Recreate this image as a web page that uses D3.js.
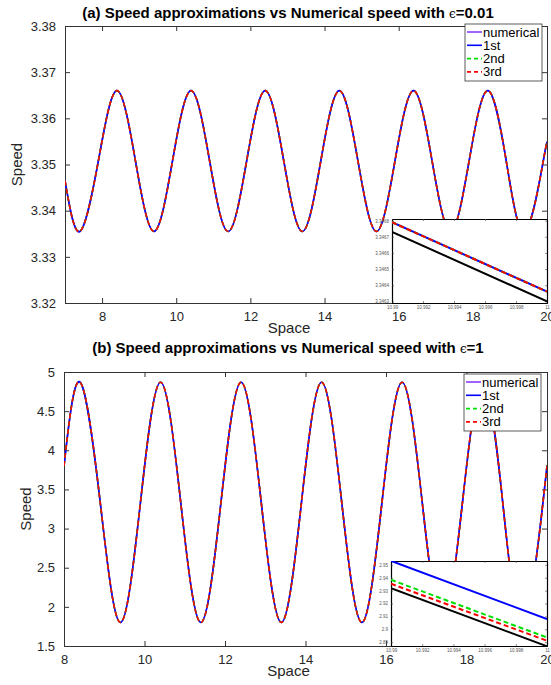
<!DOCTYPE html>
<html>
<head>
<meta charset="utf-8">
<script src="https://cdn.jsdelivr.net/npm/d3@7"></script>
<style>
  body { margin: 0; background: #fff; }
  svg { display: block; font-family: "Liberation Sans", Arial, sans-serif; }
</style>
</head>
<body>
<div id="chart"></div>
<script>
// panel (a), eps = 0.01 : all four series overlap at this scale
const spaceA = [7, 7.4, 7.9, 8.4, 8.9, 9.4, 9.9, 10.4, 10.9, 11.4, 11.9, 12.4, 12.9, 13.4,
    13.9, 14.4, 14.9, 15.4, 15.9, 16.4, 16.9, 17.4, 17.9, 18.4, 18.9, 19.4, 19.9, 20]
const speedA = [3.3465, 3.3355, 3.3508, 3.366, 3.3508, 3.3355, 3.3508, 3.366, 3.3508, 3.3355,
    3.3508, 3.366, 3.3508, 3.3355, 3.3508, 3.366, 3.3508, 3.3355, 3.3508, 3.366, 3.3508,
    3.3355, 3.3508, 3.366, 3.3508, 3.3355, 3.3508, 3.3545]

// panel (b), eps = 1
const spaceB = [8, 8.4, 8.9, 9.4, 9.9, 10.4, 10.9, 11.4, 11.9, 12.4, 12.9, 13.4, 13.9, 14.4,
    14.9, 15.4, 15.9, 16.4, 16.9, 17.4, 17.9, 18.4, 18.9, 19.4, 19.9, 20]
const speedB = [3.8, 4.87, 3.335, 1.8, 3.335, 4.87, 3.335, 1.8, 3.335, 4.87, 3.335, 1.8, 3.335,
    4.87, 3.335, 1.8, 3.335, 4.87, 3.335, 1.8, 3.335, 4.87, 3.335, 1.8, 3.335, 3.8]

// zoomed insets (space 10.99 .. 11)
const insetSpace = [10.99, 11]
const insetNumA = [3.34673, 3.3463]
const insetFirstA = [3.34679, 3.34636]
const insetSecondA = [3.34679, 3.34636]
const insetThirdA = [3.34679, 3.34636]
const insetNumB = [2.9319, 2.8868]
const insetFirstB = [2.9531, 2.9079]
const insetSecondB = [2.9384, 2.8936]
const insetThirdB = [2.9353, 2.8911]

const xTicksA = [8, 10, 12, 14, 16, 18, 20]
const yTicksA = [3.32, 3.33, 3.34, 3.35, 3.36, 3.37, 3.38]
const xTicksB = [8, 10, 12, 14, 16, 18, 20]
const yTicksB = [1.5, 2, 2.5, 3, 3.5, 4, 4.5, 5]
const insetXTicks = [10.99, 10.992, 10.994, 10.996, 10.998, 11]
const insetYTicksA = [3.3463, 3.3464, 3.3465, 3.3466, 3.3467, 3.3468]
const insetYTicksB = [2.89, 2.9, 2.91, 2.92, 2.93, 2.94, 2.95]

const legendNames = ["numerical", "1st", "2nd", "3rd"]
const colors = ["#8a3cff", "#0000ff", "#00e000", "#ff0000"]
const dashes = [null, null, "5,3", "5,3"]

const axisColor = "#333"

const svg = d3.select("#chart").append("svg")
    .attr("width", 551)
    .attr("height", 685)

svg.append("rect").attr("width", 551).attr("height", 685).attr("fill", "#fff")

function drawPanel(p) {
    const x = d3.scaleLinear().domain(p.xDomain).range([p.left, p.right])
    const y = d3.scaleLinear().domain(p.yDomain).range([p.bottom, p.top])
    const g = svg.append("g")

    g.append("clipPath").attr("id", "clip" + p.id)
        .append("rect")
        .attr("x", p.left).attr("y", p.top)
        .attr("width", p.right - p.left).attr("height", p.bottom - p.top)

    // ticks pointing inwards on all four sides, matlab style
    g.append("g").attr("transform", "translate(0," + p.bottom + ")")
        .call(d3.axisBottom(x).tickValues(p.xTicks).tickSizeInner(-5).tickSizeOuter(0).tickPadding(9))
    g.append("g").attr("transform", "translate(0," + p.top + ")")
        .call(d3.axisTop(x).tickValues(p.xTicks).tickSizeInner(-5).tickSizeOuter(0).tickFormat(""))
    g.append("g").attr("transform", "translate(" + p.left + ",0)")
        .call(d3.axisLeft(y).tickValues(p.yTicks).tickSizeInner(-5).tickSizeOuter(0).tickPadding(9).tickFormat(p.yFormat))
    g.append("g").attr("transform", "translate(" + p.right + ",0)")
        .call(d3.axisRight(y).tickValues(p.yTicks).tickSizeInner(-5).tickSizeOuter(0).tickFormat(""))

    g.selectAll(".domain").attr("stroke", axisColor).attr("stroke-width", 1)
    g.selectAll(".tick line").attr("stroke", axisColor)
    g.selectAll(".tick text").attr("fill", "#262626").style("font-size", "13px")

    const line = d3.line()
        .x((d, i) => x(p.space[i]))
        .y(d => y(d))
        .curve(d3.curveNatural)

    const lines = g.append("g").attr("clip-path", "url(#clip" + p.id + ")")
    colors.forEach((c, k) => {
        lines.append("path")
            .datum(p.speed)
            .attr("fill", "none")
            .attr("stroke", c)
            .attr("stroke-width", 1.6)
            .attr("stroke-dasharray", dashes[k])
            .attr("d", line)
    })

    // title
    const t = g.append("text")
        .attr("x", p.titleX).attr("y", p.titleY)
        .attr("text-anchor", "middle")
        .style("font-size", "15px").style("font-weight", "bold")
        .attr("fill", "#000")
    t.append("tspan").text(p.title)
    t.append("tspan").style("font-weight", "normal").style("font-family", "DejaVu Serif")
        .style("font-size", "12px").text("ϵ")
    t.append("tspan").text("=" + p.eps)

    g.append("text")
        .attr("x", (p.left + p.right) / 2 - 17).attr("y", p.bottom + 30)
        .attr("text-anchor", "middle")
        .style("font-size", "15px").attr("fill", "#262626")
        .text("Space")

    g.append("text")
        .attr("transform", "translate(" + p.ylabX + "," + ((p.top + p.bottom) / 2) + ")rotate(-90)")
        .attr("text-anchor", "middle")
        .style("font-size", "15px").attr("fill", "#262626")
        .text("Speed")

    drawInset(p.inset)

    // legend
    const lg = g.append("g").attr("transform", "translate(" + p.legend[0] + "," + p.legend[1] + ")")
    lg.append("rect").attr("width", 77).attr("height", 57)
        .attr("fill", "#fff").attr("stroke", axisColor).attr("stroke-width", 0.8)
    legendNames.forEach((name, k) => {
        const cy = 8 + k * 13.3
        lg.append("line")
            .attr("x1", 2).attr("x2", 17).attr("y1", cy).attr("y2", cy)
            .attr("stroke", colors[k]).attr("stroke-width", 1.6)
            .attr("stroke-dasharray", dashes[k] ? "4,3" : null)
        lg.append("text")
            .attr("x", 18).attr("y", cy + 4.5)
            .style("font-size", "13px").attr("fill", "#000")
            .text(name)
    })
}

function drawInset(q) {
    const x = d3.scaleLinear().domain([10.99, 11]).range([q.left, q.right])
    const y = d3.scaleLinear().domain(q.yDomain).range([q.bottom, q.top])
    const g = svg.append("g")

    g.append("rect")
        .attr("x", q.left).attr("y", q.top)
        .attr("width", q.right - q.left).attr("height", q.bottom - q.top)
        .attr("fill", "#fff")

    g.append("clipPath").attr("id", "clip" + q.id)
        .append("rect")
        .attr("x", q.left).attr("y", q.top)
        .attr("width", q.right - q.left).attr("height", q.bottom - q.top)

    g.append("g").attr("transform", "translate(0," + q.bottom + ")")
        .call(d3.axisBottom(x).tickValues(insetXTicks).tickSizeInner(-2).tickSizeOuter(0).tickPadding(3).tickFormat(d3.format("~g")))
    g.append("g").attr("transform", "translate(0," + q.top + ")")
        .call(d3.axisTop(x).tickValues(insetXTicks).tickSizeInner(-2).tickSizeOuter(0).tickFormat(""))
    g.append("g").attr("transform", "translate(" + q.left + ",0)")
        .call(d3.axisLeft(y).tickValues(q.yTicks).tickSizeInner(-2).tickSizeOuter(0).tickPadding(3).tickFormat(d3.format("~g")))
    g.append("g").attr("transform", "translate(" + q.right + ",0)")
        .call(d3.axisRight(y).tickValues(q.yTicks).tickSizeInner(-2).tickSizeOuter(0).tickFormat(""))

    g.selectAll(".domain").attr("stroke", "#000").attr("stroke-width", 1.2)
    g.selectAll(".tick line").attr("stroke", "#444").attr("stroke-width", 0.6)
    g.selectAll(".tick text").attr("fill", "#555").style("font-size", "4.5px")

    const line = d3.line()
        .x((d, i) => x(insetSpace[i]))
        .y(d => y(d))

    const lines = g.append("g").attr("clip-path", "url(#clip" + q.id + ")")
    const series = [q.num, q.first, q.second, q.third]
    const cols = ["#000", colors[1], colors[2], colors[3]]
    series.forEach((s, k) => {
        lines.append("path")
            .datum(s)
            .attr("fill", "none")
            .attr("stroke", cols[k])
            .attr("stroke-width", 2)
            .attr("stroke-dasharray", dashes[k])
            .attr("d", line)
    })
}

drawPanel({
    id: "a", left: 65, right: 547, top: 26, bottom: 303,
    xDomain: [7, 20], yDomain: [3.32, 3.38],
    xTicks: xTicksA, yTicks: yTicksA, yFormat: d3.format(".2f"),
    space: spaceA, speed: speedA,
    title: "(a) Speed approximations vs Numerical speed with ", eps: "0.01",
    titleX: 288, titleY: 18, ylabX: 22, legend: [465, 24],
    inset: {
        id: "ia", left: 392, right: 547, top: 219, bottom: 303,
        yDomain: [3.34629, 3.34681], yTicks: insetYTicksA,
        num: insetNumA, first: insetFirstA, second: insetSecondA, third: insetThirdA
    }
})

drawPanel({
    id: "b", left: 64, right: 547, top: 372, bottom: 646,
    xDomain: [8, 20], yDomain: [1.5, 5],
    xTicks: xTicksB, yTicks: yTicksB, yFormat: d3.format("~g"),
    space: spaceB, speed: speedB,
    title: "(b) Speed approximations vs Numerical speed with ", eps: "1",
    titleX: 288, titleY: 353, ylabX: 31, legend: [464, 374],
    inset: {
        id: "ib", left: 391, right: 547, top: 561, bottom: 646,
        yDomain: [2.887, 2.953], yTicks: insetYTicksB,
        num: insetNumB, first: insetFirstB, second: insetSecondB, third: insetThirdB
    }
})
</script>
</body>
</html>
